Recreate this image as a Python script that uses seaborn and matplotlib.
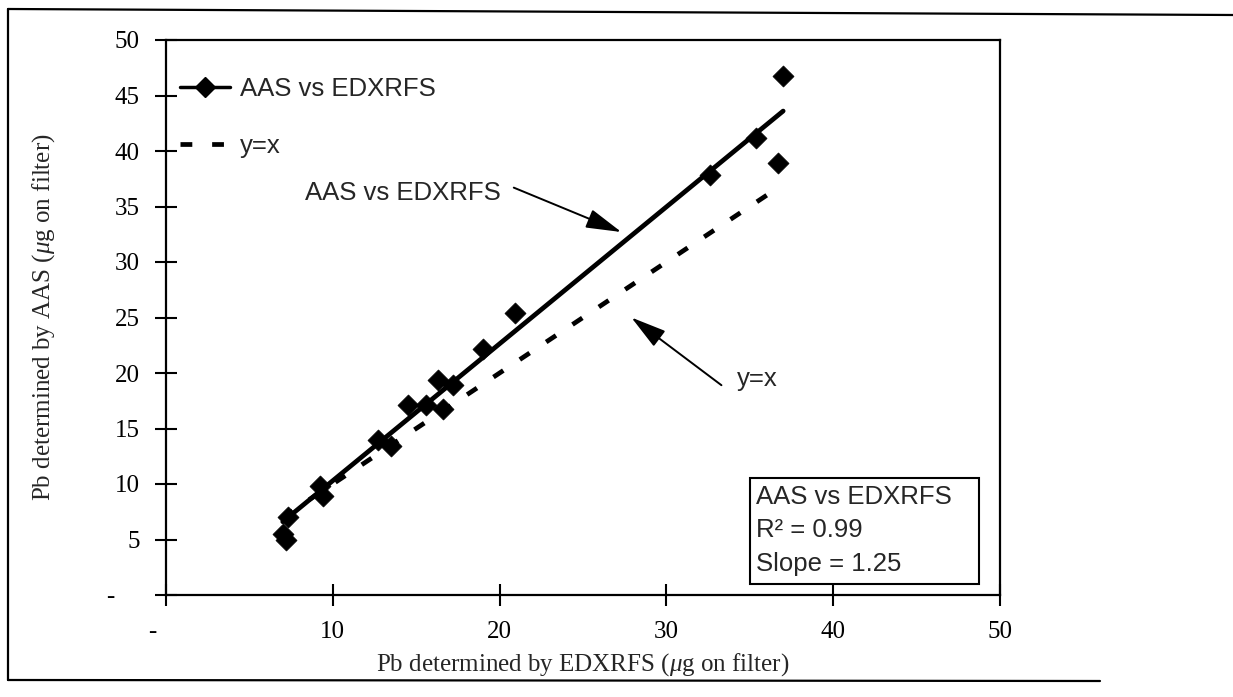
import matplotlib
matplotlib.use("Agg")
import matplotlib.pyplot as plt
import matplotlib.transforms as mtransforms
from matplotlib.lines import Line2D
from matplotlib.patches import Rectangle
import seaborn as sns

# ---------------- data ----------------
edxrfs = [7.0, 7.2, 7.3, 9.25, 9.4, 12.7, 13.5, 14.5, 15.6, 16.3, 16.6, 17.2,
          19.0, 20.9, 32.6, 35.4, 36.7, 37.0]
aas = [5.5, 5.0, 7.0, 9.8, 8.9, 14.0, 13.4, 17.1, 17.1, 19.4, 16.8, 18.9,
       22.2, 25.4, 37.8, 41.2, 38.9, 46.8]
fit_x = [7.0, 37.0]
fit_y = [6.6, 43.6]
identity_x = [7.0, 36.8]
identity_y = [7.0, 36.8]
x_ticks = [0, 10, 20, 30, 40, 50]
x_tick_labels = ["-", "10", "20", "30", "40", "50"]
y_ticks = [0, 5, 10, 15, 20, 25, 30, 35, 40, 45, 50]
y_tick_labels = ["-", "5", "10", "15", "20", "25", "30", "35", "40", "45", "50"]
series_name = "AAS vs EDXRFS"
identity_name = "y=x"
r_squared = 0.99
slope = 1.25
x_label = r"Pb determined by EDXRFS ($\mu$g on filter)"
y_label = r"Pb determined by AAS ($\mu$g on filter)"

# ---------------- style ----------------
sns.set_style("white")
plt.rcParams["font.family"] = ["Liberation Serif", "DejaVu Serif"]
plt.rcParams["mathtext.fontset"] = "custom"
plt.rcParams["mathtext.rm"] = "Liberation Serif"
plt.rcParams["mathtext.it"] = "Liberation Serif:italic"
SANS = ["Liberation Sans", "DejaVu Sans"]
TXT = 18.5

W, H = 1233, 697
fig = plt.figure(figsize=(W / 100, H / 100), dpi=100)
fig.patch.set_facecolor("white")
ax = fig.add_axes([166 / W, (H - 595) / H, 834 / W, 555 / H])

# fitted line and identity line
sns.lineplot(x=fit_x, y=fit_y, color="black", lw=3.4, ax=ax, sort=False,
             zorder=2)
sns.lineplot(x=identity_x, y=identity_y, color="black", lw=3.4, ax=ax,
             sort=False, linestyle=(0, (2.5, 4.2)), zorder=2)
# data points
sns.scatterplot(x=edxrfs, y=aas, marker="D", s=115, color="black",
                edgecolor="black", linewidth=0.5, ax=ax, zorder=3,
                legend=False)

ax.set_xlim(0, 50)
ax.set_ylim(0, 50)
ax.set_xticks(x_ticks)
ax.set_xticklabels(x_tick_labels)
ax.set_yticks(y_ticks)
ax.set_yticklabels(y_tick_labels)
ax.tick_params(axis="both", direction="inout", length=16, width=1.5,
               labelsize=18, pad=11, colors="black", bottom=True, left=True,
               top=False, right=False)
for sp in ax.spines.values():
    sp.set_visible(True)
    sp.set_color("black")
    sp.set_linewidth(1.6)
ax.grid(False)

# shift the "-" zero labels as in the original
ax.get_yticklabels()[0].set_transform(
    ax.get_yticklabels()[0].get_transform()
    + mtransforms.ScaledTranslation(-18 / 72, 0, fig.dpi_scale_trans))
ax.get_xticklabels()[0].set_transform(
    ax.get_xticklabels()[0].get_transform()
    + mtransforms.ScaledTranslation(-10 / 72, 0, fig.dpi_scale_trans))

ax.set_xlabel(x_label, fontsize=18)
ax.set_ylabel(y_label, fontsize=18)
ax.xaxis.set_label_coords(0.5, -(651 - 595) / 555)
ax.yaxis.set_label_coords(-(166 - 57) / 834, 0.5)

# legend
handles = [
    Line2D([], [], color="black", lw=2.5, marker="D", markersize=10),
    Line2D([], [], color="black", lw=3.4, linestyle=(0, (2.5, 4.2))),
]
ax.legend(handles, [series_name, identity_name], loc="upper left",
          bbox_to_anchor=((180 - 166) / 834, (595 - 77) / 555),
          frameon=False, borderpad=0, borderaxespad=0, handlelength=1.95,
          handletextpad=0.4, labelspacing=1.28, numpoints=1,
          prop={"family": SANS, "size": TXT})

# annotations with arrows
ax.text(20.05, 36.2, series_name, ha="right", va="center", fontsize=TXT,
        family=SANS)
ax.annotate("", xy=(27.3, 32.7), xytext=(20.85, 36.7),
            arrowprops=dict(arrowstyle="-|>,head_length=2.2,head_width=0.6",
                            color="black", lw=1.4, shrinkA=0, shrinkB=0))
ax.text(34.2, 19.5, identity_name, ha="left", va="center", fontsize=TXT,
        family=SANS)
ax.annotate("", xy=(27.9, 25.0), xytext=(33.3, 18.9),
            arrowprops=dict(arrowstyle="-|>,head_length=2.2,head_width=0.6",
                            color="black", lw=1.4, shrinkA=0, shrinkB=0))

# statistics box
ax.add_patch(Rectangle((35.0, 0.95), 13.75, 9.6, facecolor="white",
                       edgecolor="black", lw=1.5, zorder=4))
stats_lines = [series_name, f"R\u00b2 = {r_squared:.2f}", f"Slope = {slope:.2f}"]
for yv, s in zip([8.8, 5.85, 2.75], stats_lines):
    ax.text(35.35, yv, s, ha="left", va="center", fontsize=TXT, family=SANS,
            zorder=5)

# outer frame of the scanned figure
def fline(x0, y0, x1, y1):
    fig.add_artist(Line2D([x0 / W, x1 / W], [1 - y0 / H, 1 - y1 / H],
                          transform=fig.transFigure, color="black", lw=1.6))

fline(8, 9, 1233, 15)
fline(8, 9, 8, 680)
fline(8, 680, 1100, 681)

fig.savefig("out.png", dpi=100, facecolor="white")
